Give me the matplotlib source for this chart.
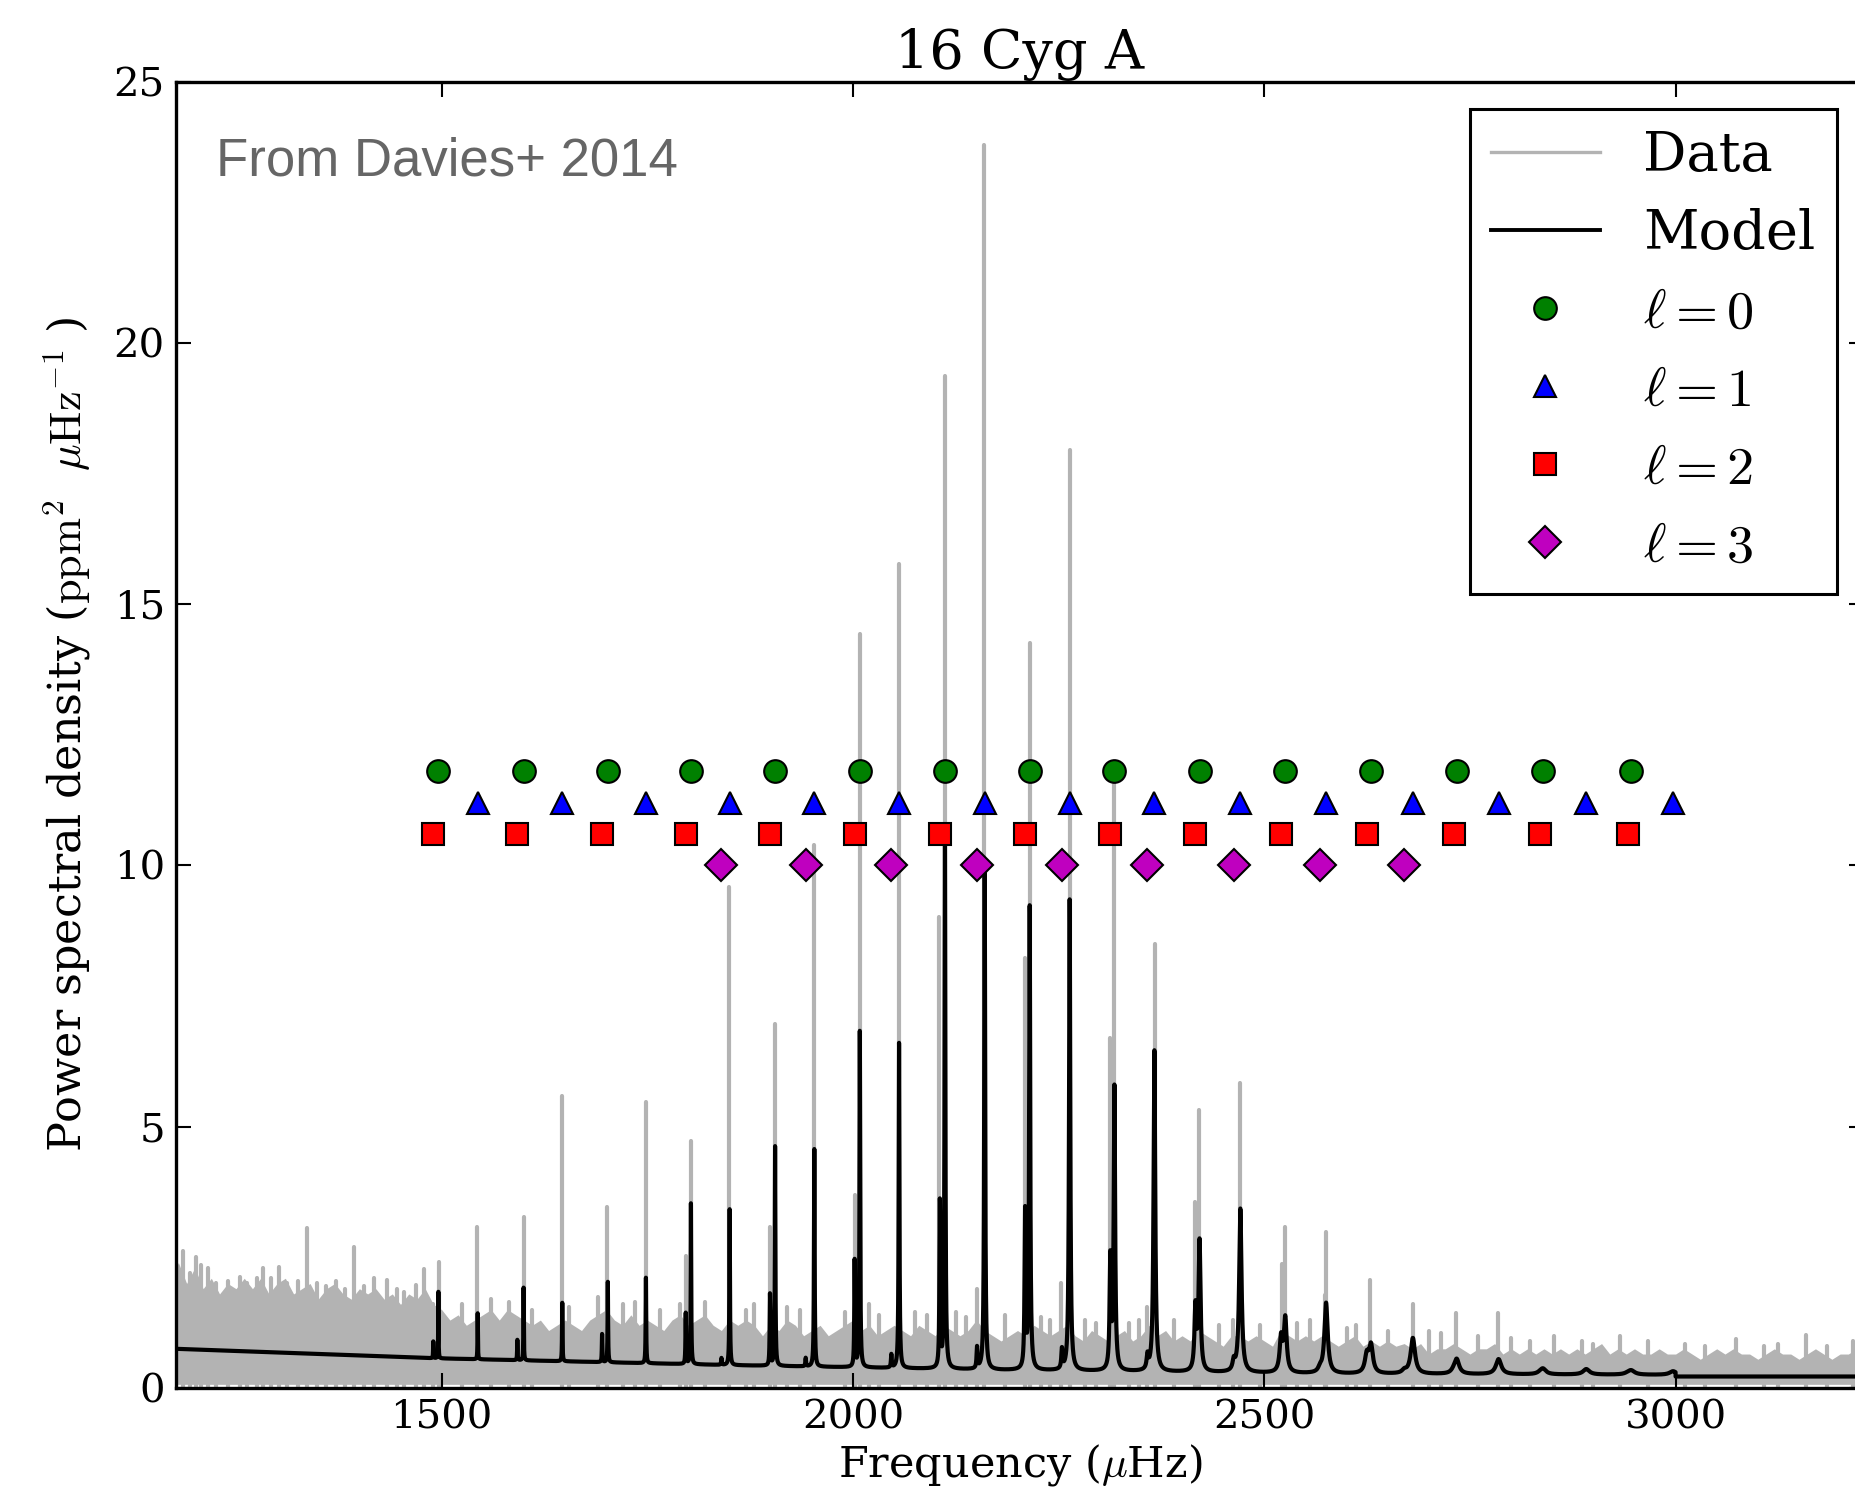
import numpy as np
import matplotlib
matplotlib.use('Agg')
import matplotlib.pyplot as plt
from matplotlib.lines import Line2D

plt.rcParams['font.family'] = 'DejaVu Serif'
plt.rcParams['mathtext.fontset'] = 'cm'

# Mode frequencies (muHz) by angular degree
freq_l0 = [1496.0, 1599.6, 1702.0, 1803.0, 1905.3, 2008.3, 2111.8, 2214.8,
           2317.8, 2421.3, 2525.5, 2629.7, 2733.9, 2838.8, 2946.0]
freq_l1 = [1543.8, 1646.6, 1748.3, 1850.1, 1953.0, 2056.0, 2160.1, 2263.4,
           2366.4, 2470.9, 2575.1, 2680.6, 2784.8, 2891.4, 2996.9]
freq_l2 = [1489.8, 1592.0, 1695.0, 1796.7, 1899.1, 2002.0, 2105.6, 2209.2,
           2312.8, 2416.3, 2520.4, 2624.6, 2730.1, 2835.5, 2942.1]
freq_l3 = [1840.1, 1942.5, 2046.6, 2150.8, 2254.0, 2358.0, 2462.9, 2567.7, 2670.1]

# Height of the fitted profile at each mode (ppm^2 / muHz)
model_top_l0 = [1.84, 1.92, 2.03, 3.53, 4.62, 6.82, 10.6, 9.18,
                5.72, 2.77, 1.30, 0.79, 0.54, 0.36, 0.33]
model_top_l1 = [1.43, 1.63, 2.11, 3.42, 4.57, 6.60, 10.0, 9.34,
                6.45, 3.42, 1.62, 0.95, 0.55, 0.36, 0.32]
model_top_l2 = [0.89, 0.92, 1.03, 1.43, 1.79, 2.43, 3.53, 3.32,
                2.42, 1.49, 0.92, 0.60, 0.30, 0.28, 0.27]
model_top_l3 = [0.57, 0.57, 0.63, 0.75, 0.70, 0.57, 0.47, 0.35, 0.32]

# Linewidths of the radial modes (muHz)
width_l0 = [0.5, 0.6, 0.7, 0.8, 0.9, 1.0, 1.2, 1.5, 2.0, 2.8, 4.0, 5.5, 7.0, 8.5, 10.0]

# Fitted background
bg_freq = [1177, 1489, 1840, 2180, 2575, 3000]
bg_level = [0.75, 0.57, 0.44, 0.34, 0.27, 0.25]
bg_tail_freq = [3000, 3229]
bg_tail_level = [0.22, 0.22]

# Observed spectrum: upper edge of the noise band every 10 muHz, 1170-3230
noise_freq = np.arange(1170, 3231, 10)
noise_top = [2.1, 2.4, 2.0, 2.3, 1.9, 2.1, 1.8, 2.0, 1.9, 2.1,
             1.9, 2.1, 1.8, 2.0, 2.1, 1.8, 1.9, 2.0, 1.7, 1.9,
             2.0, 1.8, 1.7, 1.9, 1.8, 1.9, 1.7, 1.8, 1.6, 1.8,
             1.7, 1.9, 1.6, 1.5, 1.3, 1.4, 1.2, 1.3, 1.4, 1.5,
             1.3, 1.5, 1.4, 1.3, 1.2, 1.3, 1.1, 1.2, 1.3, 1.2,
             1.1, 1.3, 1.4, 1.5, 1.3, 1.2, 1.4, 1.2, 1.3, 1.2,
             1.1, 1.3, 1.4, 1.2, 1.3, 1.4, 1.2, 1.1, 1.3, 1.2,
             1.3, 1.2, 1.0, 1.2, 1.1, 1.3, 1.2, 1.0, 1.1, 1.2,
             1.0, 1.1, 1.2, 1.3, 1.1, 1.2, 1.0, 1.1, 1.2, 1.1,
             1.0, 1.2, 1.1, 1.0, 1.2, 1.1, 1.0, 1.1, 1.3, 1.1,
             1.0, 0.9, 1.0, 1.1, 1.0, 1.2, 1.1, 1.0, 1.1, 1.2,
             1.0, 0.9, 1.1, 1.0, 0.9, 1.0, 1.1, 0.9, 1.0, 1.2,
             1.0, 1.1, 0.9, 1.0, 0.9, 1.1, 1.0, 0.9, 0.8, 1.0,
             1.0, 0.9, 1.0, 0.9, 0.8, 1.1, 1.0, 0.9, 1.0, 0.9,
             1.0, 0.9, 0.8, 0.9, 1.0, 0.8, 0.9, 0.8, 0.9, 0.8,
             0.85, 0.75, 0.85, 0.65, 0.75, 0.75, 0.85, 0.75, 0.65, 0.75,
             0.75, 0.85, 0.65, 0.75, 0.65, 0.75, 0.65, 0.75, 0.65, 0.75,
             0.65, 0.75, 0.65, 0.75, 0.85, 0.65, 0.75, 0.65, 0.75, 0.65,
             0.65, 0.75, 0.65, 0.65, 0.75, 0.65, 0.55, 0.65, 0.75, 0.65,
             0.75, 0.65, 0.65, 0.55, 0.65, 0.75, 0.65, 0.65, 0.55, 0.65,
             0.75, 0.65, 0.55, 0.65, 0.65, 0.75, 0.65]
noise_floor = 0.07

# Narrow excursions of the observed spectrum (freq, height)
spike_freq = [1186, 1194, 1201, 1208, 1216, 1226, 1240, 1255, 1263, 1275,
              1283, 1293, 1302, 1312, 1325, 1336, 1348, 1360, 1371, 1382,
              1393, 1405, 1418, 1434, 1446, 1454, 1469, 1479,
              1489.8, 1496.6, 1525, 1543.5, 1560, 1582, 1600.0, 1610, 1646.6,
              1655, 1690, 1701.0, 1720, 1735, 1748.5, 1765, 1790, 1796.6,
              1803.0, 1820, 1849.7, 1870, 1880, 1899.2, 1905.3, 1920, 1935,
              1953.0, 1990, 2002.5, 2008.6, 2020, 2032, 2056.4, 2075, 2090,
              2105.0, 2111.9, 2125, 2138, 2150.3, 2159.7, 2185, 2209.0, 2215.2,
              2228, 2240, 2253.0, 2263.9, 2282, 2295, 2312.5, 2317.8, 2335,
              2348, 2358, 2367.2, 2390, 2416.0, 2421.0, 2445, 2462, 2470.5,
              2495, 2521.0, 2525.0, 2540, 2555, 2574.0, 2575.5, 2600, 2612,
              2628.0, 2650, 2681.0, 2700, 2715, 2733.0, 2760, 2784.0, 2800,
              2823, 2852, 2886, 2899, 2932, 2967, 3012, 3036, 3073, 3108,
              3124, 3159, 3184, 3216]
spike_height = [2.63, 2.2, 2.51, 2.35, 2.3, 2.0, 2.05, 2.13, 2.0, 2.1,
                2.29, 2.1, 2.32, 2.0, 2.04, 3.07, 2.0, 1.95, 2.04, 1.9,
                2.69, 1.95, 2.1, 2.06, 1.9, 1.84, 1.97, 2.27,
                1.6, 2.42, 1.6, 3.08, 1.7, 1.65, 3.28, 1.5, 5.59,
                1.55, 1.75, 3.46, 1.6, 1.65, 5.48, 1.5, 1.6, 2.53,
                4.73, 1.65, 9.59, 1.5, 1.6, 3.09, 6.96, 1.55, 1.5,
                10.40, 1.45, 3.69, 14.42, 1.6, 1.4, 15.77, 1.45, 1.4,
                9.02, 19.37, 1.45, 1.35, 1.9, 23.78, 1.4, 8.22, 14.25,
                1.35, 1.3, 2.0, 17.95, 1.3, 1.25, 6.70, 11.8, 1.25,
                1.3, 1.55, 8.50, 1.3, 3.56, 5.32, 1.2, 1.3, 5.83,
                1.2, 2.38, 3.09, 1.24, 1.3, 1.78, 2.98, 1.15, 1.2,
                2.06, 1.1, 1.61, 1.1, 1.05, 1.43, 1.0, 1.43, 0.95,
                0.9, 1.0, 0.9, 0.85, 1.0, 0.9, 0.85, 0.8, 0.93, 0.8,
                0.85, 1.01, 0.8, 0.9]


def lorentzian(f, f0, height, width):
    return height / (1.0 + 4.0 * ((f - f0) / width) ** 2)


def build_model():
    f = np.arange(1177.0, 3000.0, 0.05)
    f = np.union1d(f, freq_l0 + freq_l1 + freq_l2 + freq_l3)
    power = np.interp(f, bg_freq, bg_level)
    modes = [(freq_l0, model_top_l0), (freq_l1, model_top_l1),
             (freq_l2, model_top_l2), (freq_l3, model_top_l3)]
    for freqs, tops in modes:
        for f0, top in zip(freqs, tops):
            height = top - np.interp(f0, bg_freq, bg_level)
            width = np.interp(f0, freq_l0, width_l0)
            power += lorentzian(f, f0, height, width)
    f = np.concatenate([f, bg_tail_freq])
    power = np.concatenate([power, bg_tail_level])
    return f, power


fig = plt.figure(figsize=(18.56, 15.02), dpi=100)
ax = fig.add_axes([0.0948, 0.0759, 0.9095, 0.8698])

# observed power spectrum
ax.fill_between(noise_freq, noise_floor, noise_top, color='0.7', lw=0, zorder=1)
ax.vlines(spike_freq, 0, spike_height, color='0.7', lw=3.0, capstyle='round', zorder=1)

model_f, model_p = build_model()
ax.plot(model_f, model_p, color='k', lw=3.0, zorder=2)

# mode identifications
marker_kw = dict(ls='none', mec='k', mew=1.5, ms=16.3, zorder=3)
h0, = ax.plot(freq_l0, [11.8] * len(freq_l0), 'o', color='g', **marker_kw)
h1, = ax.plot(freq_l1, [11.2] * len(freq_l1), '^', color='b', **marker_kw)
h2, = ax.plot(freq_l2, [10.6] * len(freq_l2), 's', color='r', **marker_kw)
h3, = ax.plot(freq_l3, [10.0] * len(freq_l3), 'D', color='m', **marker_kw)

data_handle = Line2D([], [], color='0.7', lw=2.4)
model_handle = Line2D([], [], color='k', lw=2.8)
leg = ax.legend([data_handle, model_handle, h0, h1, h2, h3],
                ['Data', 'Model', r'$\ell=0$', r'$\ell=1$', r'$\ell=2$', r'$\ell=3$'],
                loc='upper right', fontsize=39, numpoints=1, fancybox=False,
                framealpha=1, edgecolor='k', handlelength=2.0, handletextpad=0.8,
                borderpad=0.4, labelspacing=0.48, borderaxespad=0.5)
leg.get_frame().set_linewidth(2.2)

ax.text(0.024, 0.928, 'From Davies+ 2014', transform=ax.transAxes,
        family='Liberation Sans', fontsize=38, color='0.4', va='baseline')

ax.set_xlim(1177, 3229)
ax.set_ylim(0, 25)
ax.set_xticks([1500, 2000, 2500, 3000])
ax.set_yticks([0, 5, 10, 15, 20, 25])
ax.tick_params(direction='in', top=True, right=True, length=10.5, width=1.5,
               labelsize=29, pad=8)
for spine in ax.spines.values():
    spine.set_linewidth(2.4)

ax.set_title('16 Cyg A', fontsize=39, pad=9)
ax.set_xlabel(r'Frequency ($\mu$Hz)', fontsize=31, labelpad=4)
ax.set_ylabel(r'Power spectral density ($\mathrm{ppm}^2\ \ \mu\mathrm{Hz}^{-1}$ )',
              fontsize=32, labelpad=15)

fig.savefig('out.png', dpi=100)
